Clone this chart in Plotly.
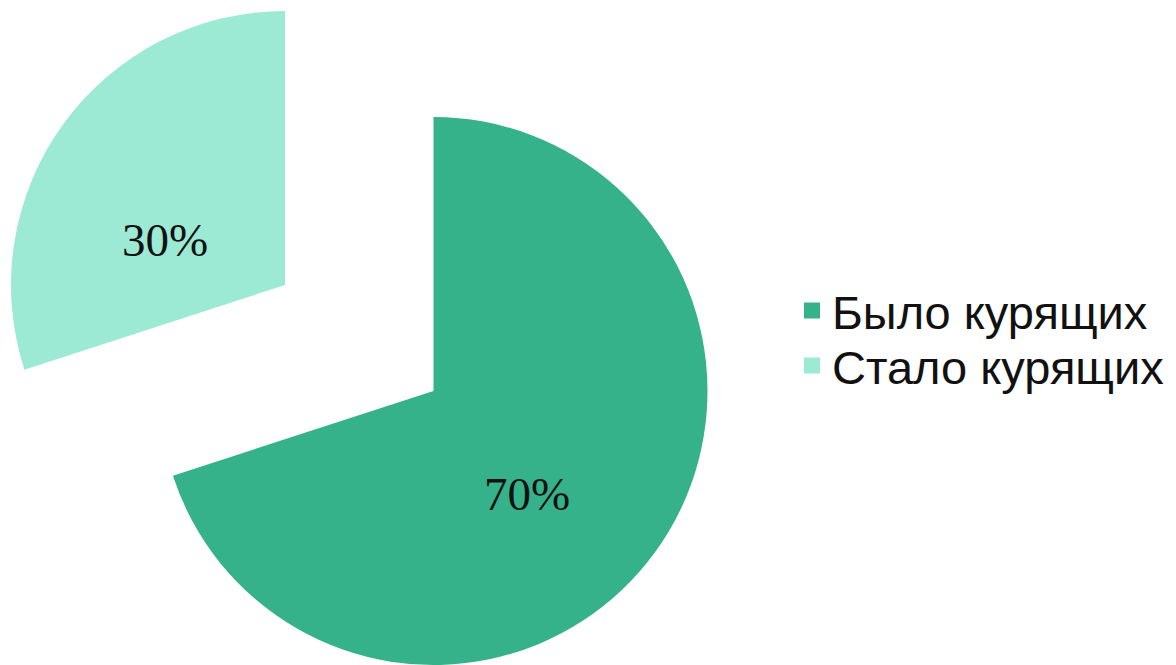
import plotly.graph_objects as go

# Data
labels = ["Было курящих", "Стало курящих"]
values = [70, 30]
colors = ["#35B28A", "#9DEAD4"]
value_text = [f"{v}%" for v in values]

W, H = 1176, 665
TRANSPARENT = "rgba(0,0,0,0)"


def pie_domain(cx, cy, r):
    """Domain (paper units) for a pie of radius r centred at pixel (cx, cy)."""
    return dict(x=[(cx - r) / W, (cx + r) / W],
                y=[1 - (cy + r) / H, 1 - (cy - r) / H])


def px(x, y):
    """Pixel position -> paper coordinates."""
    return x / W, 1 - y / H


R = 274
main_center = (433.5, 391)      # the whole pie
pulled_center = (285, 285)      # exploded "Стало" slice

common = dict(
    values=values,
    labels=labels,
    sort=False,
    direction="clockwise",
    rotation=0,
    hoverinfo="label+percent",
    textinfo="none",
    showlegend=False,
)

fig = go.Figure()

# Main pie: only the "Было" slice is painted
fig.add_trace(go.Pie(
    **common,
    marker=dict(colors=[colors[0], TRANSPARENT]),
    domain=pie_domain(*main_center, R),
))

# Exploded slice: only "Стало" is painted
fig.add_trace(go.Pie(
    **common,
    marker=dict(colors=[TRANSPARENT, colors[1]]),
    domain=pie_domain(*pulled_center, R),
))

# Legend rows: square swatches, one legend per row for tight spacing
legend_names = ["legend", "legend2"]
for lab, col, lg in zip(labels, colors, legend_names):
    fig.add_trace(go.Scatter(
        x=[None], y=[None],
        mode="markers",
        marker=dict(symbol="square", size=16, color=col),
        name=lab,
        legend=lg,
        showlegend=True,
        hoverinfo="skip",
    ))

# Percentage labels inside the slices
label_pos = [(main_center[0] + 93, main_center[1] + 103),
             (pulled_center[0] - 120, pulled_center[1] - 45)]
for txt, (lx, ly) in zip(value_text, label_pos):
    ax, ay = px(lx, ly)
    fig.add_annotation(
        x=ax, y=ay, xref="paper", yref="paper",
        text=txt, showarrow=False,
        xanchor="center", yanchor="middle",
        font=dict(family="Liberation Serif", size=47, color="#111111"),
    )

legend_style = dict(
    xanchor="left",
    yanchor="middle",
    font=dict(family="Liberation Sans", size=47, color="#111111"),
    bgcolor="rgba(0,0,0,0)",
)
row_y = [311, 366]

fig.update_layout(
    width=W,
    height=H,
    margin=dict(l=0, r=0, t=0, b=0),
    paper_bgcolor="white",
    plot_bgcolor="white",
    xaxis=dict(visible=False),
    yaxis=dict(visible=False),
    showlegend=True,
    legend=dict(x=792 / W, y=1 - row_y[0] / H, **legend_style),
    legend2=dict(x=792 / W, y=1 - row_y[1] / H, **legend_style),
)

fig.write_html("out.html")
